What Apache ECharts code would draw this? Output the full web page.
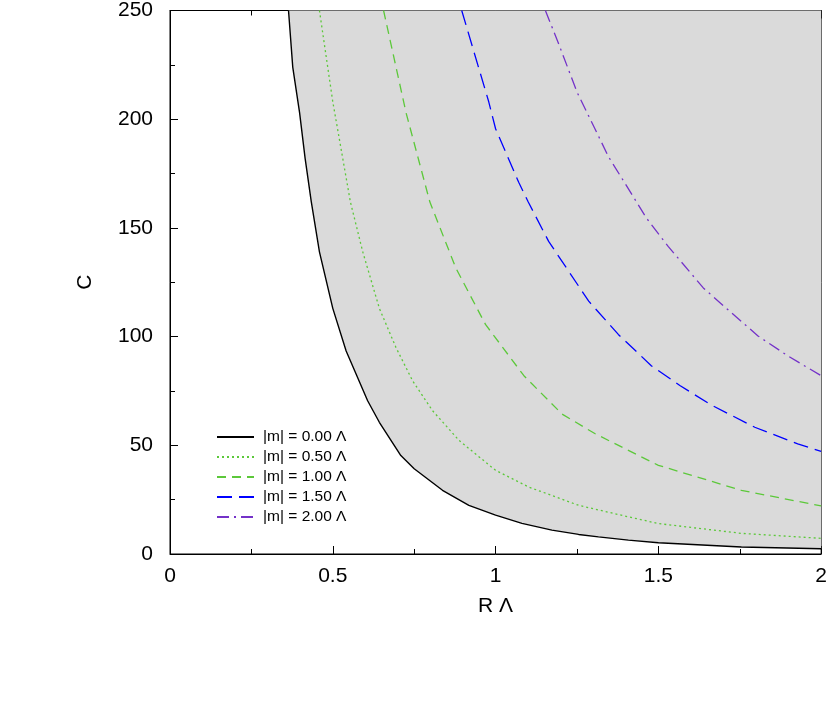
<!DOCTYPE html>
<html>
<head>
<meta charset="utf-8">
<script src="https://cdn.jsdelivr.net/npm/echarts@6/dist/echarts.min.js"></script>
<style>
html,body{margin:0;padding:0;background:#fff;}
#chart{width:830px;height:701px;}
</style>
</head>
<body>
<div id="chart"></div>
<script>
// ---- data ----
const xTicks = [0, 0.5, 1, 1.5, 2];
const yTicks = [0, 50, 100, 150, 200, 250];
const seriesNames = ['|m| = 0.00 \u039B', '|m| = 0.50 \u039B', '|m| = 1.00 \u039B', '|m| = 1.50 \u039B', '|m| = 2.00 \u039B'];

const r0 = [0.364, 0.377, 0.398, 0.415, 0.434, 0.459, 0.5, 0.541, 0.607, 0.643, 0.709, 0.75, 0.837, 0.918, 1.0, 1.081, 1.173, 1.255, 1.316, 1.408, 1.5, 1.755, 2.0];
const c0 = [250, 224, 203, 182, 162, 139, 113, 93.4, 70.5, 60.6, 45.3, 39.2, 29.3, 22.4, 17.9, 14.1, 11.0, 9.0, 7.9, 6.4, 5.2, 3.2, 2.4];

const r1 = [0.459, 0.5, 0.554, 0.592, 0.643, 0.694, 0.745, 0.806, 0.888, 1.0, 1.102, 1.255, 1.408, 1.5, 1.755, 2.0];
const c1 = [250, 208, 162, 139, 113, 95, 79.7, 66, 52.2, 38.5, 30.8, 22.4, 17.1, 14.0, 9.5, 7.2];

const r2 = [0.656, 0.725, 0.798, 0.878, 0.969, 1.087, 1.204, 1.306, 1.398, 1.5, 1.755, 2.0];
const c2 = [250, 203, 162, 131.5, 105.6, 82, 64.4, 55.3, 48.4, 40.8, 29.3, 22.1];

const r3 = [0.896, 0.979, 1.0, 1.071, 1.1, 1.163, 1.286, 1.377, 1.479, 1.566, 1.663, 1.796, 1.928, 2.0];
const c3 = [250, 208, 195.6, 171, 162, 143.8, 116.3, 101, 86.5, 77.5, 68.5, 58.3, 50.7, 47.2];

const r4 = [1.153, 1.194, 1.25, 1.347, 1.464, 1.53, 1.638, 1.724, 1.806, 1.898, 2.0];
const c4 = [250, 234.6, 212.5, 182.7, 154.4, 141.5, 122.4, 111, 100.3, 91.1, 82];

// ---- build ----
function pairs(r, c){ return r.map((v,i)=>[v, c[i]]); }
const FONT = 'Liberation Sans, Arial, sans-serif';

const chart = echarts.init(document.getElementById('chart'), null, {renderer:'canvas'});

const baseX = {
  type:'value', min:0, max:2, interval:0.5,
  axisLine:{show:true, lineStyle:{color:'#000', width:1}},
  axisTick:{show:true, inside:true, length:8, lineStyle:{color:'#000'}},
  minorTick:{show:true, splitNumber:2, length:5, lineStyle:{color:'#000'}},
  splitLine:{show:false}
};

const option = {
  animation:false,
  backgroundColor:'#fff',
  grid:{left:170, right:7, top:8, bottom:147, show:true, borderColor:'#000', borderWidth:1, backgroundColor:'transparent'},
  legend:{
    orient:'vertical', left:211, top:424,
    itemWidth:37, itemHeight:14, itemGap:4,
    selectedMode:false,
    itemStyle:{opacity:0},
    textStyle:{fontFamily:FONT, fontSize:15.5, color:'#000', padding:[0,0,0,4]},
    data:seriesNames
  },
  xAxis:[
    Object.assign({}, baseX, {
      position:'bottom',
      name:'R \u039B', nameLocation:'middle', nameGap:42,
      nameTextStyle:{fontFamily:FONT, fontSize:21, color:'#000'},
      axisLabel:{show:true, margin:12, fontFamily:FONT, fontSize:21, color:'#000',
        formatter:v => xTicks.includes(v) ? String(v) : ''}
    }),
    Object.assign({}, baseX, {position:'top', axisLabel:{show:false}})
  ],
  yAxis:{
    type:'value', min:0, max:250, interval:50,
    name:'C', nameLocation:'middle', nameGap:74,
    nameTextStyle:{fontFamily:FONT, fontSize:21, color:'#000'},
    axisLine:{show:true, lineStyle:{color:'#000', width:1}},
    axisTick:{show:true, inside:true, length:8, lineStyle:{color:'#000'}},
    minorTick:{show:true, splitNumber:2, length:5, lineStyle:{color:'#000'}},
    splitLine:{show:false},
    axisLabel:{margin:17, fontFamily:FONT, fontSize:21, color:'#000',
      formatter:v => yTicks.includes(v) ? String(v) : ''}
  },
  series:[
    {name:seriesNames[0], type:'line', data:pairs(r0,c0), symbol:'none', smooth:false,
     lineStyle:{color:'#000', width:1.4, type:'solid'}, itemStyle:{color:'#000'},
     areaStyle:{color:'#dadada', opacity:1, origin:'end'}, z:2},
    {name:seriesNames[1], type:'line', data:pairs(r1,c1), symbol:'none',
     lineStyle:{color:'#5cc83a', width:1.3, type:[2,3]}, itemStyle:{color:'#5cc83a'}, z:3},
    {name:seriesNames[2], type:'line', data:pairs(r2,c2), symbol:'none',
     lineStyle:{color:'#5cc83a', width:1.3, type:[9,6]}, itemStyle:{color:'#5cc83a'}, z:3},
    {name:seriesNames[3], type:'line', data:pairs(r3,c3), symbol:'none',
     lineStyle:{color:'#0000ff', width:1.3, type:[15,7]}, itemStyle:{color:'#0000ff'}, z:3},
    {name:seriesNames[4], type:'line', data:pairs(r4,c4), symbol:'none',
     lineStyle:{color:'#7432c8', width:1.3, type:[12,5,2,5]}, itemStyle:{color:'#7432c8'}, z:3}
  ]
};
chart.setOption(option);
</script>
</body>
</html>
